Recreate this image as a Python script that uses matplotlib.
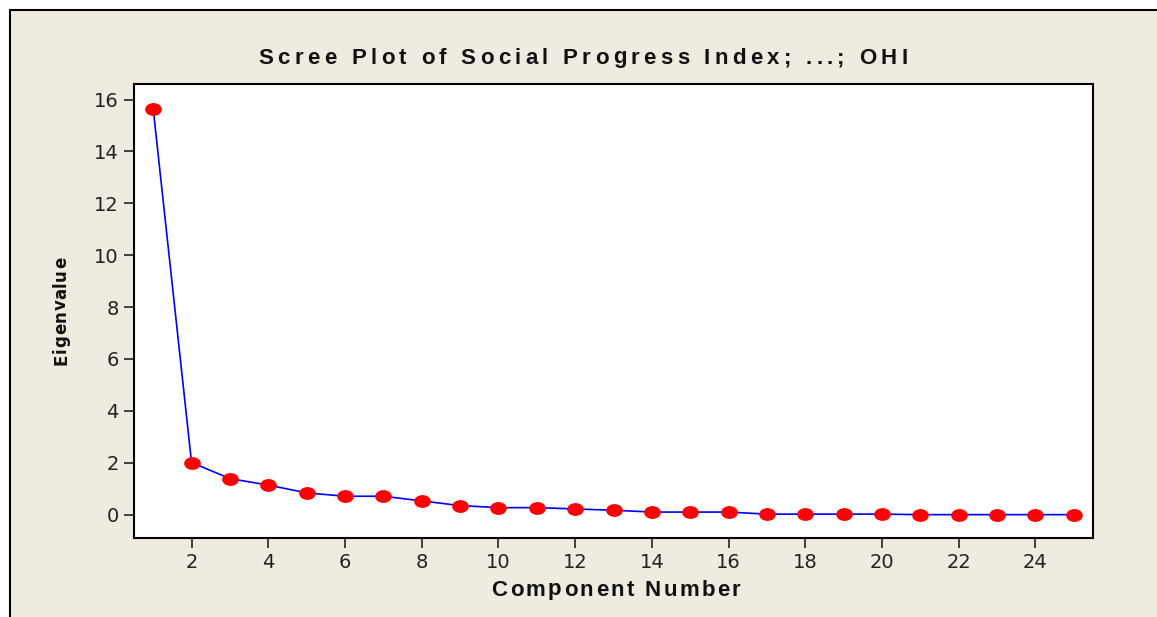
import numpy as np
import matplotlib
matplotlib.use('Agg')
from matplotlib import pyplot as plt
from matplotlib import font_manager
from matplotlib.ft2font import FT2Font
from matplotlib.path import Path
from matplotlib.patches import Rectangle
from matplotlib.transforms import Affine2D

# data
component = list(range(1, 26))
eigenvalue = [15.65, 2.01, 1.39, 1.14, 0.84, 0.71, 0.71, 0.53, 0.35, 0.27,
              0.27, 0.22, 0.17, 0.10, 0.10, 0.10, 0.02, 0.02, 0.02, 0.02,
              0.0, 0.0, 0.0, 0.0, 0.0]
x_ticks = list(range(2, 25, 2))
y_ticks = list(range(0, 17, 2))
title = "Scree Plot of Social Progress Index; ...; OHI"
x_label = "Component Number"
y_label = "Eigenvalue"

W, H, DPI = 1157, 617, 100
BG = '#EFEBE1'

plt.rcParams['font.family'] = ['DejaVu Sans']

fig = plt.figure(figsize=(W / DPI, H / DPI), dpi=DPI, facecolor='white')

# beige panel with black border (top/left only visible)
fig.add_artist(Rectangle((10 / W, -0.2), 2, (H - 10) / H + 0.2,
                         transform=fig.transFigure, facecolor=BG,
                         edgecolor='black', lw=1.5, zorder=-5))

ax = fig.add_axes([134 / W, (H - 538) / H, 959 / W, 454 / H])
ax.set_facecolor('white')

ellipse = Path.unit_circle().transformed(Affine2D().scale(1.3, 1.0))
ax.plot(component, eigenvalue, color='#0000FF', lw=1.2, zorder=2)
ax.plot(component, eigenvalue, linestyle='none', marker=ellipse,
        markersize=12, markerfacecolor='#FF0000', markeredgecolor='none',
        zorder=3)

ax.set_xlim(0.5, 25.5)
ax.set_ylim(-0.9, 16.6)
ax.set_xticks(x_ticks)
ax.set_yticks(y_ticks)
ax.tick_params(direction='out', length=7, width=1.2, labelsize=14, pad=4,
               colors='#222222')
for sp in ax.spines.values():
    sp.set_linewidth(1.5)
    sp.set_color('black')


def spaced_text(s, cx, cy, size, target, family, rotation=0):
    # draw text char by char with wide letter spacing (cx, cy in px, cy = baseline)
    fp = font_manager.FontProperties(family=family, weight='bold')
    font = FT2Font(font_manager.findfont(fp))
    font.set_size(size, 72)
    adv = [font.load_char(ord(c)).linearHoriAdvance / 65536 * DPI / 72 for c in s]
    track = (target - sum(adv)) / (len(s) - 1)
    total = sum(adv) + track * (len(s) - 1)
    p = -total / 2
    for c, a in zip(s, adv):
        off = p + a / 2
        if rotation == 0:
            x, y = cx + off, cy
        else:
            x, y = cx, cy - off
        fig.text(x / W, 1 - y / H, c, fontsize=size, fontweight='bold',
                 family=family, ha='center', va='baseline', rotation=rotation,
                 rotation_mode='anchor', color='#111111')
        p += a + track


spaced_text(title, 583, 63.5, 16, 649, 'Liberation Sans')
spaced_text(x_label, 616, 595.5, 16, 249, 'Liberation Sans')
spaced_text(y_label, 66, 311, 12, 108, 'DejaVu Sans', rotation=90)

fig.savefig('out.png', dpi=DPI, facecolor=fig.get_facecolor())
